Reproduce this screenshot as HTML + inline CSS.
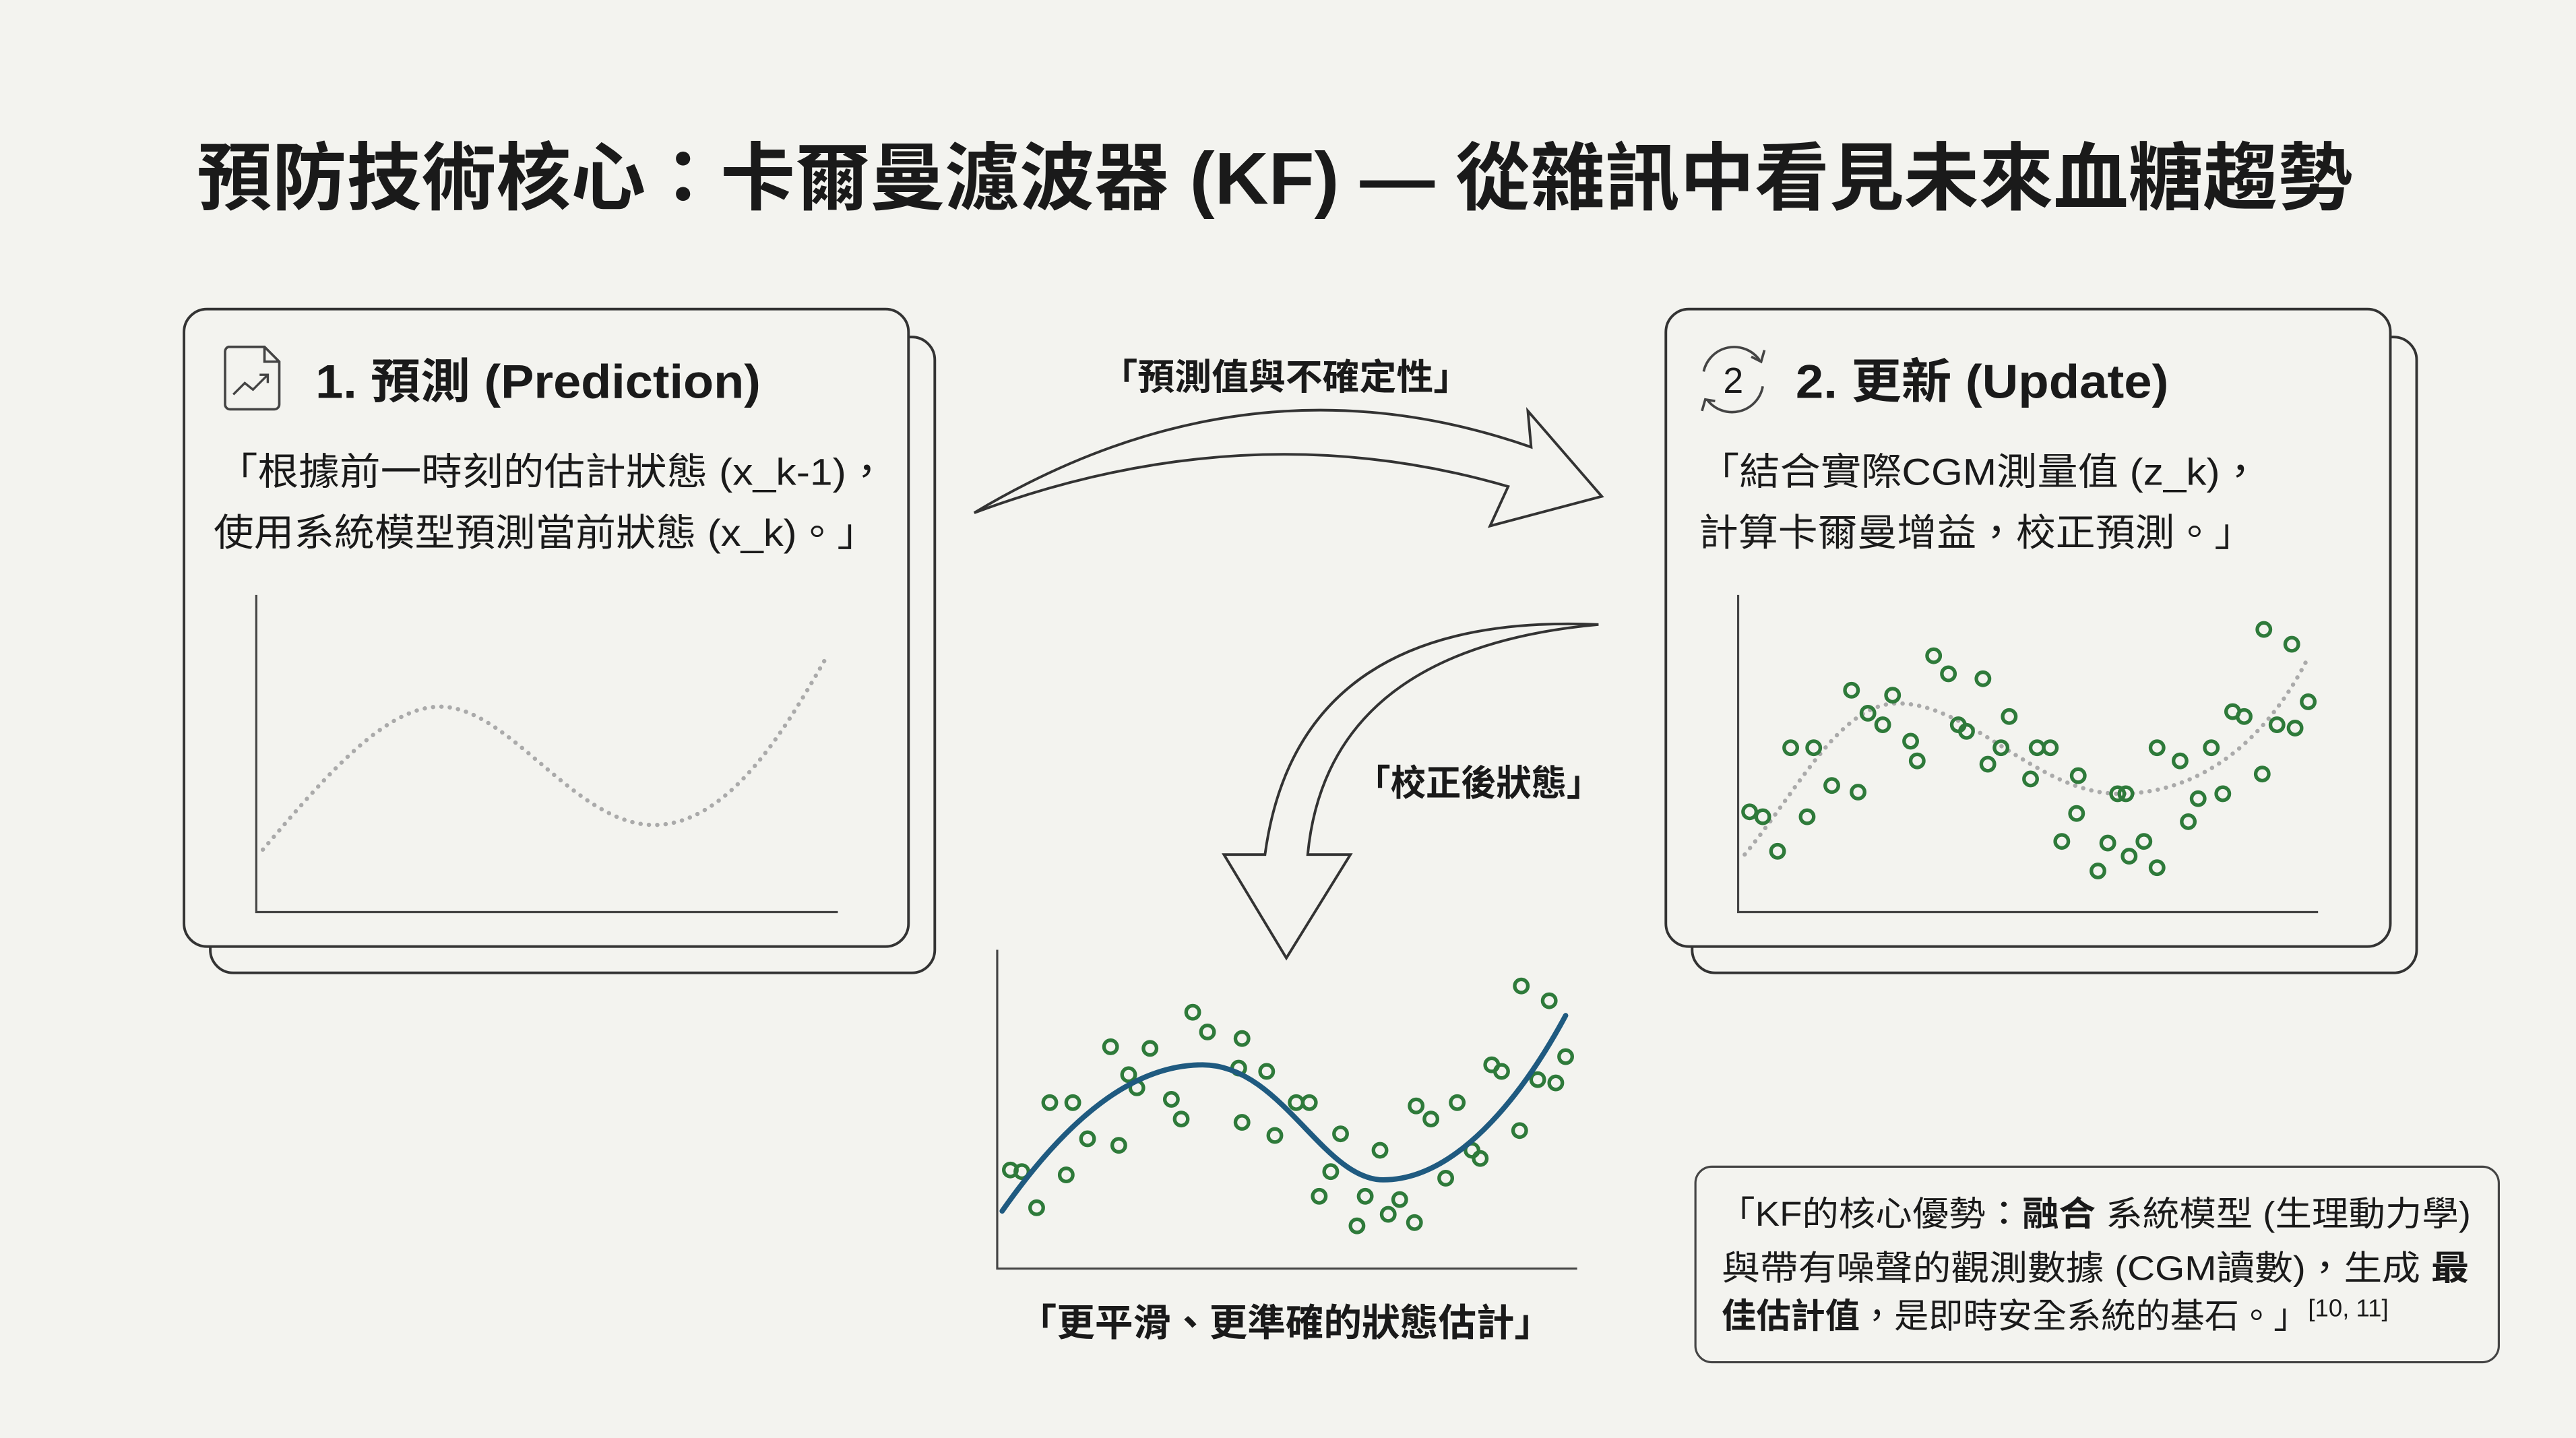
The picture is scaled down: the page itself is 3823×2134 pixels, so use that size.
<!DOCTYPE html>
<html><head><meta charset="utf-8"><style>
html,body{margin:0;padding:0;background:#f3f3ef;}
svg{display:block;}
text{font-family:"Liberation Sans","Noto Sans CJK TC",sans-serif;fill:#1a1a1a;}
.b{font-weight:bold;}
</style></head><body>
<svg width="3823" height="2134" viewBox="0 0 1568 875" xmlns="http://www.w3.org/2000/svg">
<rect width="1568" height="875" fill="#f3f3ef"/>
<text x="776" y="124" text-anchor="middle" font-size="45" class="b" textLength="1312" lengthAdjust="spacingAndGlyphs">預防技術核心：卡爾曼濾波器 (KF) — 從雜訊中看見未來血糖趨勢</text>

<!-- Left card -->
<rect x="128" y="205" width="441" height="387" rx="14" fill="#f3f3ef" stroke="#333" stroke-width="1.6"/>
<rect x="112" y="188" width="441" height="388" rx="14" fill="#f3f3ef" stroke="#333" stroke-width="1.6"/>
<path d="M139,211 H161 L170,220 V246 a3,3 0 0 1 -3,3 H140 a3,3 0 0 1 -3,-3 V214 a3,3 0 0 1 2,-3 Z M161,211 V220 H170" fill="none" stroke="#444" stroke-width="1.5"/>
<path d="M142,240 L149,233 L154,237 L163,228 M158,228 H163 V233" fill="none" stroke="#444" stroke-width="1.4"/>
<text x="192" y="242" font-size="29" class="b" textLength="271" lengthAdjust="spacingAndGlyphs">1. 預測 (Prediction)</text>
<text x="132" y="295" font-size="23" textLength="408" lengthAdjust="spacingAndGlyphs">「根據前一時刻的估計狀態 (x_k-1)，</text>
<text x="130" y="332" font-size="23" textLength="404" lengthAdjust="spacingAndGlyphs">使用系統模型預測當前狀態 (x_k)。」</text>
<path d="M156,362 V555 H510" fill="none" stroke="#444" stroke-width="1.3"/>
<path d="M160,517 C200,470 235,430 268,430 C310,430 350,502 398,502 C445,502 480,440 503,400" fill="none" stroke="#aaa" stroke-width="2.6" stroke-dasharray="0.1,5" stroke-linecap="round"/>

<!-- Right card -->
<rect x="1030" y="205" width="441" height="387" rx="14" fill="#f3f3ef" stroke="#333" stroke-width="1.6"/>
<rect x="1014" y="188" width="441" height="388" rx="14" fill="#f3f3ef" stroke="#333" stroke-width="1.6"/>
<path d="M1037,226 A19,19 0 0 1 1071,219 M1073,235 A19,19 0 0 1 1039,243" fill="none" stroke="#444" stroke-width="1.5"/>
<path d="M1066,217 L1072,220 L1074,213 M1044,244 L1038,243 L1036,250" fill="none" stroke="#444" stroke-width="1.5"/>
<text x="1055" y="239" font-size="22" text-anchor="middle" fill="#333">2</text>
<text x="1093" y="242" font-size="29" class="b" textLength="227" lengthAdjust="spacingAndGlyphs">2. 更新 (Update)</text>
<text x="1034" y="295" font-size="23" textLength="342" lengthAdjust="spacingAndGlyphs">「結合實際CGM測量值 (z_k)，</text>
<text x="1034" y="332" font-size="23" textLength="338" lengthAdjust="spacingAndGlyphs">計算卡爾曼增益，校正預測。」</text>
<path d="M1058,362 V555 H1411" fill="none" stroke="#444" stroke-width="1.3"/>
<path d="M1062,520 C1095,480 1120,428 1155,428 C1200,428 1240,483 1290,483 C1340,483 1380,450 1405,400" fill="none" stroke="#aaa" stroke-width="2.6" stroke-dasharray="0.1,5" stroke-linecap="round"/>
<g fill="none" stroke="#2e7a3a" stroke-width="2.2">
<circle cx="1065" cy="494" r="4"/><circle cx="1073" cy="497" r="4"/><circle cx="1082" cy="518" r="4"/><circle cx="1090" cy="455" r="4"/><circle cx="1100" cy="497" r="4"/><circle cx="1104" cy="455" r="4"/><circle cx="1115" cy="478" r="4"/><circle cx="1127" cy="420" r="4"/><circle cx="1131" cy="482" r="4"/><circle cx="1137" cy="434" r="4"/><circle cx="1146" cy="441" r="4"/><circle cx="1152" cy="423" r="4"/><circle cx="1163" cy="451" r="4"/><circle cx="1167" cy="463" r="4"/><circle cx="1177" cy="399" r="4"/><circle cx="1186" cy="410" r="4"/><circle cx="1192" cy="441" r="4"/><circle cx="1197" cy="445" r="4"/><circle cx="1207" cy="413" r="4"/><circle cx="1210" cy="465" r="4"/><circle cx="1218" cy="455" r="4"/><circle cx="1223" cy="436" r="4"/><circle cx="1236" cy="474" r="4"/><circle cx="1240" cy="455" r="4"/><circle cx="1248" cy="455" r="4"/><circle cx="1255" cy="512" r="4"/><circle cx="1265" cy="472" r="4"/><circle cx="1264" cy="495" r="4"/><circle cx="1277" cy="530" r="4"/><circle cx="1283" cy="513" r="4"/><circle cx="1289" cy="483" r="4"/><circle cx="1294" cy="483" r="4"/><circle cx="1296" cy="521" r="4"/><circle cx="1305" cy="512" r="4"/><circle cx="1313" cy="528" r="4"/><circle cx="1313" cy="455" r="4"/><circle cx="1327" cy="463" r="4"/><circle cx="1332" cy="500" r="4"/><circle cx="1338" cy="486" r="4"/><circle cx="1346" cy="455" r="4"/><circle cx="1353" cy="483" r="4"/><circle cx="1359" cy="433" r="4"/><circle cx="1366" cy="436" r="4"/><circle cx="1377" cy="471" r="4"/><circle cx="1378" cy="383" r="4"/><circle cx="1386" cy="441" r="4"/><circle cx="1395" cy="392" r="4"/><circle cx="1397" cy="443" r="4"/><circle cx="1405" cy="427" r="4"/>
</g>

<!-- Top arrow -->
<text x="670" y="237" font-size="22" class="b" textLength="225" lengthAdjust="spacingAndGlyphs">「預測值與不確定性」</text>
<path d="M593,312 Q760,212 932,272 L930,250 L975,302 L907,320 L918,296 Q760,250 593,312 Z" fill="#f3f3ef" stroke="#333" stroke-width="1.6" stroke-linejoin="miter"/>

<!-- Down arrow -->
<text x="825" y="484" font-size="22" class="b" textLength="150" lengthAdjust="spacingAndGlyphs">「校正後狀態」</text>
<path d="M973,380 Q790,372 770,520 L745,520 L783,583 L822,520 L796,520 Q808,395 973,380 Z" fill="#f3f3ef" stroke="#333" stroke-width="1.6"/>

<!-- Bottom chart -->
<path d="M607,578 V772 H960" fill="none" stroke="#444" stroke-width="1.3"/>
<g fill="none" stroke="#2e7a3a" stroke-width="2.2">
<circle cx="615" cy="712" r="4"/><circle cx="622" cy="713" r="4"/><circle cx="631" cy="735" r="4"/><circle cx="649" cy="715" r="4"/><circle cx="639" cy="671" r="4"/><circle cx="653" cy="671" r="4"/><circle cx="662" cy="693" r="4"/><circle cx="676" cy="637" r="4"/><circle cx="681" cy="697" r="4"/><circle cx="687" cy="654" r="4"/><circle cx="692" cy="662" r="4"/><circle cx="700" cy="638" r="4"/><circle cx="713" cy="669" r="4"/><circle cx="719" cy="681" r="4"/><circle cx="726" cy="616" r="4"/><circle cx="735" cy="628" r="4"/><circle cx="756" cy="683" r="4"/><circle cx="756" cy="632" r="4"/><circle cx="771" cy="652" r="4"/><circle cx="776" cy="691" r="4"/><circle cx="789" cy="671" r="4"/><circle cx="797" cy="671" r="4"/><circle cx="803" cy="728" r="4"/><circle cx="810" cy="713" r="4"/><circle cx="816" cy="690" r="4"/><circle cx="826" cy="746" r="4"/><circle cx="831" cy="728" r="4"/><circle cx="840" cy="700" r="4"/><circle cx="845" cy="739" r="4"/><circle cx="852" cy="730" r="4"/><circle cx="861" cy="744" r="4"/><circle cx="862" cy="673" r="4"/><circle cx="871" cy="681" r="4"/><circle cx="880" cy="717" r="4"/><circle cx="887" cy="671" r="4"/><circle cx="896" cy="700" r="4"/><circle cx="901" cy="705" r="4"/><circle cx="908" cy="648" r="4"/><circle cx="914" cy="652" r="4"/><circle cx="925" cy="688" r="4"/><circle cx="926" cy="600" r="4"/><circle cx="936" cy="657" r="4"/><circle cx="943" cy="609" r="4"/><circle cx="947" cy="659" r="4"/><circle cx="953" cy="643" r="4"/><circle cx="754" cy="650" r="4"/>
</g>
<path d="M610,737 C650,680 690,648 732,648 C780,648 805,718 842,718 C885,718 925,670 953,618" fill="none" stroke="#1f5a80" stroke-width="3.2" stroke-linecap="round"/>
<text x="620" y="813" font-size="23" class="b" textLength="325" lengthAdjust="spacingAndGlyphs">「更平滑、更準確的狀態估計」</text>

<!-- Info box -->
<rect x="1032" y="710" width="489" height="119" rx="10" fill="#f3f3ef" stroke="#444" stroke-width="1.3"/>
<text x="1046" y="746" font-size="21" textLength="458" lengthAdjust="spacingAndGlyphs">「KF的核心優勢：<tspan class="b">融合</tspan> 系統模型 (生理動力學)</text>
<text x="1048" y="779" font-size="21" textLength="455" lengthAdjust="spacingAndGlyphs">與帶有噪聲的觀測數據 (CGM讀數)，生成 <tspan class="b">最</tspan></text>
<text x="1048" y="808" font-size="21"><tspan class="b">佳估計值</tspan>，是即時安全系統的基石。」<tspan font-size="15" dy="-7">[10, 11]</tspan></text>
</svg>
</body></html>
